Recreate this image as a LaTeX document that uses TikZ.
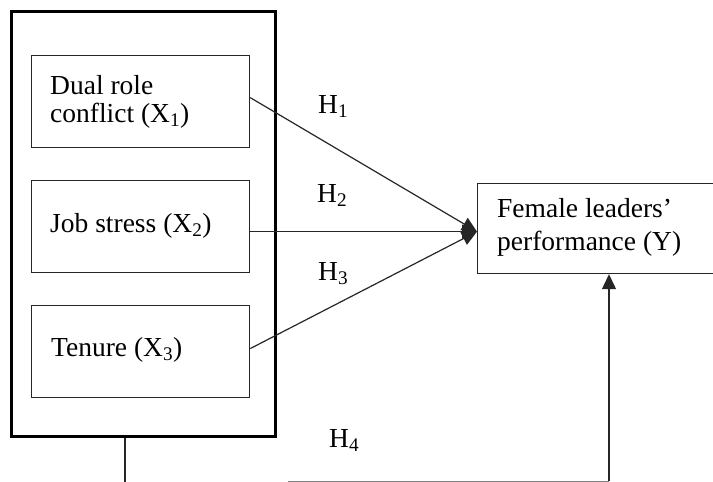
\documentclass[tikz,border=0pt]{standalone}
\usepackage{fontspec}
\setmainfont{Liberation Serif}
\usetikzlibrary{arrows.meta,calc}
\begin{document}
\begin{tikzpicture}[x=1pt,y=-1pt,
  every node/.style={font=\fontsize{27.5}{33}\selectfont},
  txt/.style={inner sep=0pt,anchor=base west},
  box/.style={draw=black!85,line width=1.2pt,inner sep=0pt,anchor=north west},
  outerbox/.style={draw=black,line width=2.6pt,inner sep=0pt,anchor=north west},
  conn/.style={draw=black!85,line width=1.2pt,-{Triangle[length=15pt,width=14pt]}}
]
\useasboundingbox (0,0) rectangle (713,482);
\clip (0,0) rectangle (713,482);
\fill[white] (0,0) rectangle (713,482);
% boxes
\node[outerbox,minimum width=264,minimum height=425] (outer) at (10,10) {};
\node[box,minimum width=218,minimum height=92] (dual) at (31,55) {};
\node[box,minimum width=218,minimum height=92] (job) at (31,180) {};
\node[box,minimum width=218,minimum height=92] (ten) at (31,305) {};
\node[box,minimum width=245,minimum height=90] (Y) at (477,183) {};
% texts
\node[txt] (t1a) at (50,94) {Dual role};
\node[txt] (t1b) at (50,122) {conflict (X\textsubscript{1})};
\node[txt] (t2) at (50,232) {Job stress (X\textsubscript{2})};
\node[txt] (t3) at (51,356) {Tenure (X\textsubscript{3})};
\node[txt] (tya) at (497,217) {Female leaders’};
\node[txt] (tyb) at (497,250) {performance (Y)};
\node[txt] (h1) at (318,113) {H\textsubscript{1}};
\node[txt] (h2) at (317,202) {H\textsubscript{2}};
\node[txt] (h3) at (318,280) {H\textsubscript{3}};
\node[txt] (h4) at (329,447) {H\textsubscript{4}};
% connectors
\coordinate (tgt) at ($(Y.west)+(0,3)$);
\draw[conn] ($(dual.east)+(0,-4)$) -- (tgt);
\draw[conn] ($(job.east)+(0,5)$) -- (tgt);
\draw[conn] ($(ten.east)+(0,-3)$) -- (tgt);
\coordinate (d1) at ($(outer.south west)+(115,0)$);
\coordinate (d2) at (125,490);
\draw[black!85,line width=1.2pt] (d1) -- (d2);
\coordinate (b1) at (288,481);
\coordinate (b2) at (609,481);
\draw[black!50,line width=1pt] (b1) -- (b2);
\draw[conn] (b2) -- (b2 |- Y.south);
\end{tikzpicture}
\end{document}
